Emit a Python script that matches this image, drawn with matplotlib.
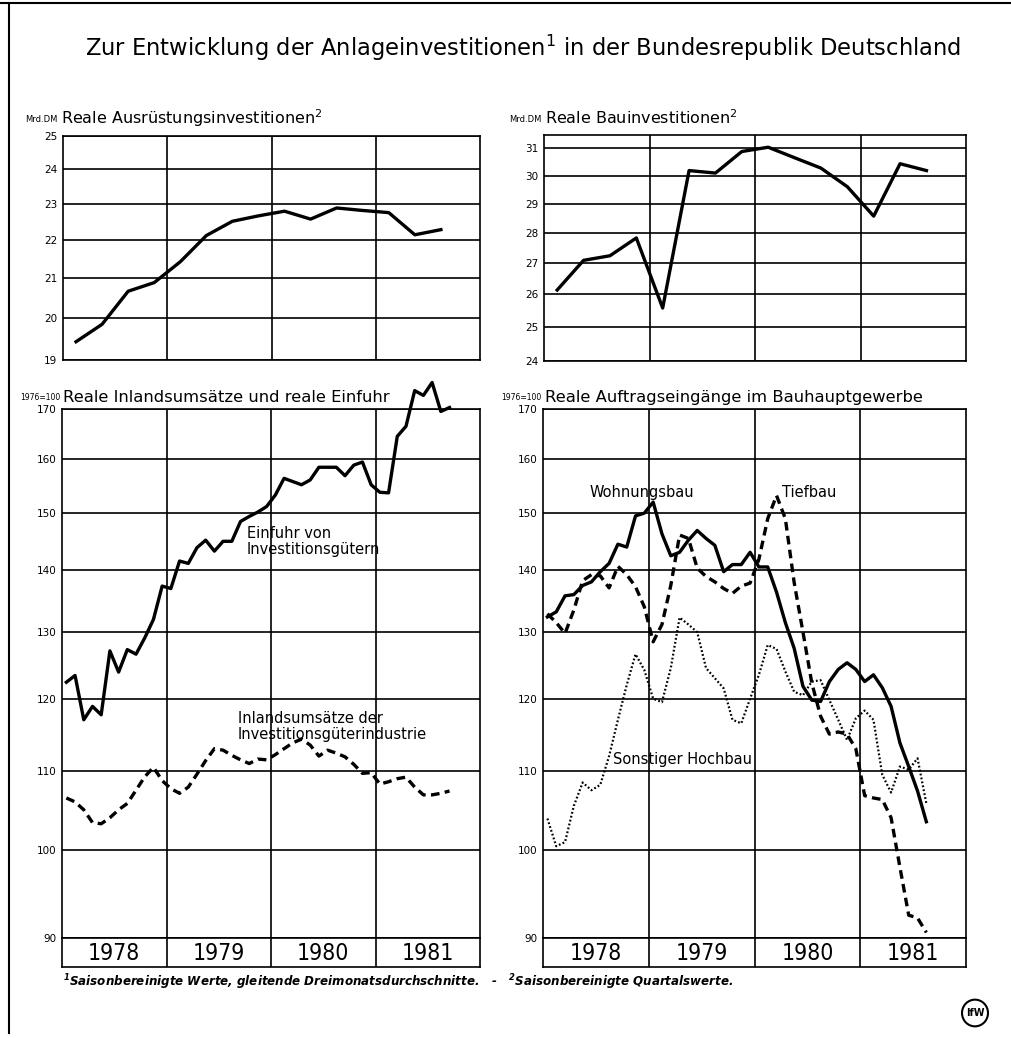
import numpy as np
import matplotlib
matplotlib.use("Agg")
import matplotlib.pyplot as plt
from matplotlib import ticker
from matplotlib.patches import Circle
from matplotlib.lines import Line2D

W, H = 1011, 1038

years = ['1978', '1979', '1980', '1981']

# quarterly values, Mrd. DM (seasonally adjusted)
ausruestung = [19.43, 19.85, 20.67, 20.89, 21.43, 22.13, 22.52, 22.67,
               22.80, 22.58, 22.89, 22.82, 22.76, 22.15, 22.29]
bau = [26.14, 27.09, 27.24, 27.83, 25.58, 30.18, 30.09, 30.88,
       31.04, 30.65, 30.27, 29.6, 28.57, 30.43, 30.18]

# monthly values, 1976=100 (3-month moving averages)
einfuhr = [122.4, 123.4, 117.0, 118.9, 117.7, 127.1, 123.9, 127.3, 126.6, 129.1, 132.0, 137.4,
           137.0, 141.6, 141.2, 143.9, 145.2, 143.3, 145.0, 145.0, 148.5, 149.4, 150.2, 151.2,
           153.3, 156.4, 155.8, 155.2, 156.1, 158.5, 158.5, 158.5, 156.9, 158.9, 159.5, 155.2,
           153.8, 153.7, 164.5, 166.5, 173.8, 172.8, 175.5, 169.5, 170.3]
inland = [106.5, 106.0, 105.0, 103.4, 103.25, 104.0, 105.0, 105.8, 107.5, 109.25, 110.5, 108.75,
          107.7, 107.1, 107.9, 109.6, 111.4, 113.0, 112.8, 112.1, 111.5, 111.0, 111.6, 111.5,
          112.2, 113.0, 113.8, 114.3, 113.5, 112.0, 112.8, 112.4, 111.9, 110.9, 109.7, 109.8,
          108.3, 108.6, 109.0, 109.2, 107.9, 106.9, 106.9, 107.1, 107.4]
wohnungsbau = [132.4, 133.2, 135.8, 136.0, 137.5, 138.1, 139.8, 141.2, 144.5, 144.0, 149.5, 150.0,
               152.0, 146.3, 142.5, 143.1, 145.2, 146.9, 145.5, 144.3, 139.8, 141.0, 141.0, 143.1,
               140.6, 140.6, 136.4, 131.5, 127.5, 121.8, 119.8, 119.6, 122.5, 124.3, 125.3, 124.3,
               122.5, 123.5, 121.6, 118.9, 113.8, 110.6, 107.4, 103.5]
tiefbau = [132.9, 131.5, 129.8, 133.5, 138.3, 139.3, 139.1, 137.1, 140.7, 139.3, 137.3, 134.0,
           128.5, 131.2, 137.5, 146.1, 145.5, 140.4, 139.0, 138.1, 137.0, 136.2, 137.4, 137.9,
           141.9, 149.0, 153.2, 149.0, 138.0, 130.0, 122.3, 117.5, 115.0, 115.3, 115.0, 113.0,
           106.8, 106.5, 106.3, 104.0, 98.0, 92.5, 92.2, 90.6]
sonst_hochbau = [103.9, 100.5, 101.0, 105.5, 108.5, 107.5, 108.2, 112.0, 117.0, 122.0, 126.6, 124.2,
                 120.0, 119.5, 124.5, 132.3, 131.2, 130.0, 124.5, 123.0, 121.5, 117.0, 116.5, 120.0,
                 123.5, 128.0, 127.4, 124.0, 121.0, 120.5, 122.5, 122.7, 119.8, 117.0, 114.2, 117.2,
                 118.3, 117.0, 109.5, 107.2, 110.6, 110.2, 111.7, 105.8]


def box(left, top, right, bottom):
    return [left / W, 1 - bottom / H, (right - left) / W, (bottom - top) / H]


def ftext(x, y, s, **kw):
    fig.text(x / W, 1 - y / H, s, **kw)


def setup(ax, lo, hi, ticks):
    ax.set_yscale('log')
    ax.set_ylim(lo, hi)
    ax.set_xlim(1978, 1982)
    ax.set_yticks(ticks)
    ax.yaxis.set_major_formatter(ticker.FormatStrFormatter('%d'))
    ax.yaxis.set_minor_locator(ticker.NullLocator())
    ax.set_xticks([1979, 1980, 1981])
    ax.set_xticklabels([])
    ax.tick_params(length=0, pad=4, labelsize=7.5)
    ax.grid(True, color='black', lw=1.2)
    for s in ax.spines.values():
        s.set_linewidth(1.2)


def year_strip(ax_box):
    ax = fig.add_axes(ax_box)
    ax.set_xlim(1978, 1982)
    ax.set_ylim(0, 1)
    ax.set_xticks([])
    ax.set_yticks([])
    for s in ax.spines.values():
        s.set_linewidth(1.2)
    for yr in [1979, 1980, 1981]:
        ax.axvline(yr, color='black', lw=1.2)
    for i, y in enumerate(years):
        ax.text(1978.5 + i, 0.45, y, ha='center', va='center', fontsize=16.5, stretch='condensed')


fig = plt.figure(figsize=(W / 100, H / 100), dpi=100)

q = 1978 + (np.arange(len(ausruestung)) + 0.5) / 4
m_l = 1978 + (np.arange(len(einfuhr)) + 0.5) / 12
m_r = 1978 + (np.arange(len(wohnungsbau)) + 0.5) / 12

# top left
ax1 = fig.add_axes(box(63, 136, 480, 360))
setup(ax1, 19, 25, [19, 20, 21, 22, 23, 24, 25])
ax1.plot(q, ausruestung, color='black', lw=2.4, solid_joinstyle='round')

# top right
ax2 = fig.add_axes(box(544, 135, 966, 361))
setup(ax2, 24, 31.5, [24, 25, 26, 27, 28, 29, 30, 31])
ax2.plot(q, bau, color='black', lw=2.4, solid_joinstyle='round')

# bottom left
ax3 = fig.add_axes(box(62, 409, 480, 938))
setup(ax3, 90, 170, [90, 100, 110, 120, 130, 140, 150, 160, 170])
ax3.plot(m_l, einfuhr, color='black', lw=2.4, clip_on=False, solid_joinstyle='round')
ax3.plot(m_l, inland, color='black', lw=2.4, dashes=(2.6, 1.6))
ax3.text(1979.77, 142.8, 'Einfuhr von\nInvestitionsgütern', fontsize=10.5, linespacing=1.1)
ax3.text(1979.68, 114.3, 'Inlandsumsätze der\nInvestitionsgüterindustrie', fontsize=10.5, linespacing=1.1)
year_strip(box(62, 938, 480, 967))

# bottom right
ax4 = fig.add_axes(box(543, 409, 966, 938))
setup(ax4, 90, 170, [90, 100, 110, 120, 130, 140, 150, 160, 170])
ax4.plot(m_r, wohnungsbau, color='black', lw=2.4, solid_joinstyle='round')
ax4.plot(m_r, tiefbau, color='black', lw=2.4, dashes=(2.6, 1.6))
ax4.plot(m_r, sonst_hochbau, color='black', lw=1.6, dashes=(0.8, 1.0))
ax4.text(1978.44, 153.0, 'Wohnungsbau', fontsize=10.5)
ax4.text(1980.26, 153.0, 'Tiefbau', fontsize=10.5)
ax4.text(1978.66, 111.0, 'Sonstiger Hochbau', fontsize=10.5)
year_strip(box(543, 938, 966, 967))

# titles
ftext(523, 48, 'Zur Entwicklung der Anlageinvestitionen$^{\\mathregular{1}}$ in der Bundesrepublik Deutschland',
      ha='center', va='center', fontsize=16.3)
ftext(57, 122, 'Mrd.DM', fontsize=6, va='baseline', ha='right')
ftext(61, 124, 'Reale Ausrüstungsinvestitionen$^{\\mathregular{2}}$', fontsize=11.5, va='baseline')
ftext(541, 122, 'Mrd.DM', fontsize=6, va='baseline', ha='right')
ftext(545, 124, 'Reale Bauinvestitionen$^{\\mathregular{2}}$', fontsize=11.5, va='baseline')
ftext(60, 400, '1976=100', fontsize=5.5, va='baseline', ha='right')
ftext(63, 402, 'Reale Inlandsumsätze und reale Einfuhr', fontsize=11.8, va='baseline')
ftext(541, 400, '1976=100', fontsize=5.5, va='baseline', ha='right')
ftext(545, 402, 'Reale Auftragseingänge im Bauhauptgewerbe', fontsize=11.8, va='baseline')

ftext(63, 982, '$^{\\mathregular{1}}$Saisonbereinigte Werte, gleitende Dreimonatsdurchschnitte.   -   '
      '$^{\\mathregular{2}}$Saisonbereinigte Quartalswerte.',
      fontsize=8.6, style='italic', fontweight='bold', va='center')

# frame lines and logo
fig.add_artist(Line2D([9 / W, 9 / W], [0.005, 0.995], color='black', lw=1.5))
fig.add_artist(Line2D([0.0, 1.0], [1 - 3 / H, 1 - 3 / H], color='black', lw=1.5))
fig.add_artist(Circle((975 / W, 1 - 1013 / H), 13 / W, transform=fig.transFigure,
                      fill=False, lw=1.5, color='black'))
ftext(975, 1013, 'IfW', ha='center', va='center', fontsize=7, fontweight='bold')

fig.savefig('out.png', dpi=100)
